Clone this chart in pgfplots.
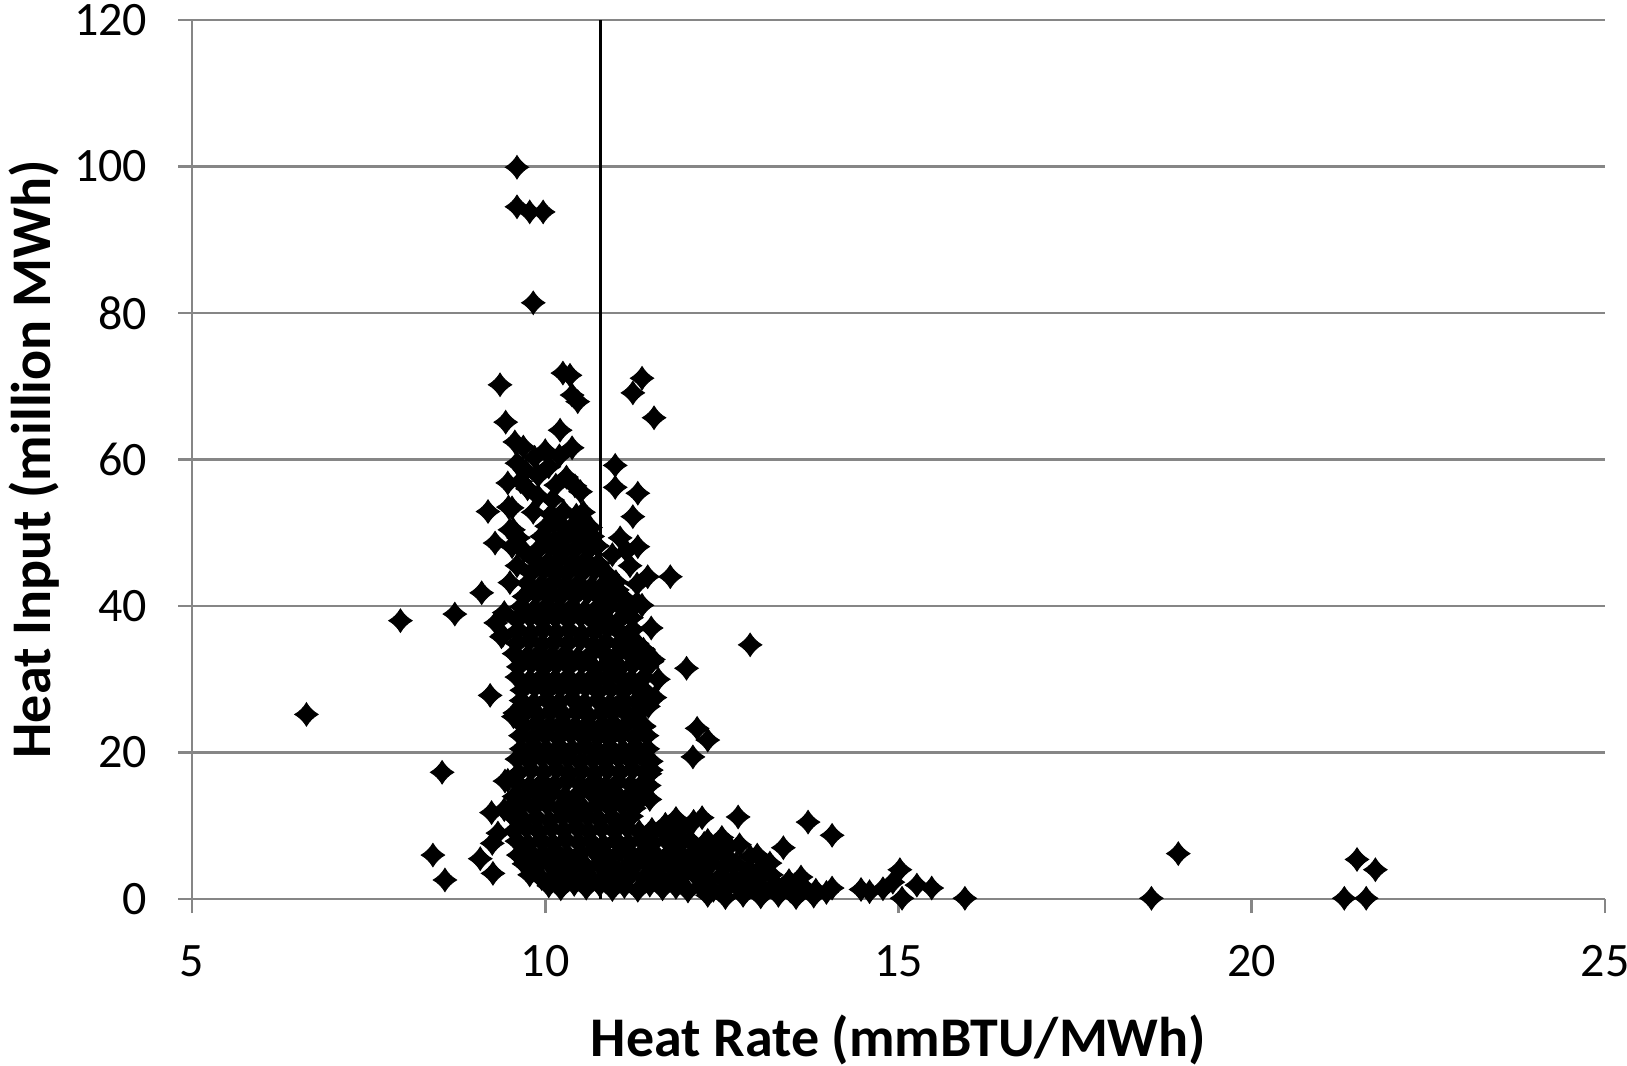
\documentclass[border=0pt]{standalone}
\usepackage{fontspec}
\setmainfont{Carlito}
\usepackage{pgfplots}
\pgfplotsset{compat=1.18}
\definecolor{axgray}{RGB}{134,134,134}
\pgfdeclareplotmark{xdiamond}{%
 \pgfpathmoveto{\pgfqpoint{0pt}{\pgfplotmarksize}}%
 \pgfpathcurveto{\pgfqpoint{0.22\pgfplotmarksize}{0.6\pgfplotmarksize}}{\pgfqpoint{0.6\pgfplotmarksize}{0.22\pgfplotmarksize}}{\pgfqpoint{\pgfplotmarksize}{0pt}}%
 \pgfpathcurveto{\pgfqpoint{0.6\pgfplotmarksize}{-0.22\pgfplotmarksize}}{\pgfqpoint{0.22\pgfplotmarksize}{-0.6\pgfplotmarksize}}{\pgfqpoint{0pt}{-\pgfplotmarksize}}%
 \pgfpathcurveto{\pgfqpoint{-0.22\pgfplotmarksize}{-0.6\pgfplotmarksize}}{\pgfqpoint{-0.6\pgfplotmarksize}{-0.22\pgfplotmarksize}}{\pgfqpoint{-\pgfplotmarksize}{0pt}}%
 \pgfpathcurveto{\pgfqpoint{-0.6\pgfplotmarksize}{0.22\pgfplotmarksize}}{\pgfqpoint{-0.22\pgfplotmarksize}{0.6\pgfplotmarksize}}{\pgfqpoint{0pt}{\pgfplotmarksize}}%
 \pgfpathclose\pgfusepathqfillstroke}
\pgfplotsset{pts/.style={only marks, mark=xdiamond, mark size=2.9pt, draw=black, fill=black, mark options={fill=black, draw=black, line width=0.25pt}}}
\begin{document}
\begin{tikzpicture}
\begin{axis}[
 at={(48pt,41.5pt)}, anchor=south west,
 scale only axis, width=353.25pt, height=219.75pt,
 xmin=5, xmax=25, ymin=0, ymax=120,
 axis x line=bottom, axis y line=left,
 axis line style={-, draw=axgray, line width=0.7pt},
 xtick={5,10,15,20,25}, xticklabels={5,10,15,20,25},
 ytick={0,20,40,60,80,100,120}, yticklabels={0,20,40,60,80,100,120},
 tick align=outside, major tick length=3.5pt,
 tick style={draw=axgray, line width=0.7pt},
 ymajorgrids, grid style={draw=axgray, line width=0.7pt},
 ticklabel style={font=\fontsize{12}{14}\selectfont, inner sep=0pt, text=black},
 xticklabel style={anchor=north, yshift=-8pt},
 yticklabel style={anchor=east, xshift=-7.5pt},
 xlabel={Heat Rate (mmBTU/MWh)},
 ylabel={Heat Input (million MWh)},
 label style={font=\fontsize{14}{16}\selectfont\bfseries},
 xlabel style={at={(axis description cs:0.5,-0.1797)}, anchor=base},
 ylabel style={at={(axis description cs:-0.1005,0.5)}, anchor=base},
 clip=false,
]
\addplot[black, line width=0.7pt] coordinates {(10.78,0) (10.78,120)};
% dense mass
\addplot[pts] coordinates {
(10.05,1.8)(10.22,1.4)(10.41,2.0)(10.58,1.5)(10.77,1.9)(10.95,1.3)(11.12,1.7)(11.31,1.2)(11.48,1.9)(11.66,1.4)(11.85,1.6)(12.02,1.1)(12.2,1.7)(12.38,1.2)(12.57,1.5)
(12.75,1.4)(12.93,1.8)(13.11,1.2)(13.29,1.6)(13.47,1.1)(13.65,1.7)(13.83,1.2)
(12.3,0.5)(12.55,0.2)(12.8,0.5)(13.05,0.3)(13.3,0.5)(13.55,0.2)(13.8,0.4)
(9.78,3.3)(9.95,2.8)(10.13,3.2)(10.31,2.9)(10.5,3.4)(10.67,2.7)(10.86,3.1)(11.03,2.8)(11.21,3.3)(11.4,2.9)(11.57,3.2)(11.76,2.7)(11.93,3.0)(12.11,3.4)(12.3,2.8)(12.48,3.1)
(12.66,2.8)(12.84,3.2)(13.02,2.9)(13.2,3.3)(13.45,2.5)(13.62,3.0)
(9.7,4.8)(9.87,4.4)(10.05,4.9)(10.22,4.5)(10.4,4.7)(10.59,4.3)(10.76,4.8)(10.94,4.6)(11.13,4.2)(11.3,4.9)(11.48,4.5)(11.67,4.7)(11.84,4.3)(12.02,4.8)(12.2,4.4)(12.35,4.9)
(12.53,4.4)(12.7,4.8)(12.9,3.9)(13.05,4.1)(13.18,4.9)
(9.62,6.0)(9.79,6.4)(9.97,6.1)(10.15,6.5)(10.33,5.9)(10.5,6.3)(10.68,6.6)(10.86,6.0)(11.05,6.4)(11.22,6.1)(11.4,6.5)(11.58,5.9)(11.76,6.3)(11.94,6.0)(12.12,6.4)(12.26,6.1)
(12.4,6.3)(12.55,5.9)(12.9,5.8)
(9.6,7.9)(9.76,7.5)(9.94,8.0)(10.11,7.6)(10.29,8.1)(10.47,7.7)(10.64,7.9)(10.83,7.4)(11.0,8.0)(11.18,7.6)(11.36,8.1)(11.53,7.7)(11.72,7.9)(11.9,7.5)(12.05,8.0)(12.25,7.6)
(9.56,9.3)(9.73,9.7)(9.91,9.2)(10.09,9.6)(10.26,9.4)(10.44,9.8)(10.62,9.2)(10.8,9.6)(10.98,9.3)(11.16,9.7)(11.33,9.2)(11.51,9.5)(11.69,9.1)(11.82,9.4)
(9.55,11.2)(9.7,10.8)(9.88,11.1)(10.06,10.7)(10.24,11.3)(10.42,10.9)(10.6,11.2)(10.77,10.8)(10.95,11.1)(11.12,10.7)(11.22,11.3)
(9.5,12.4)(9.66,12.8)(9.84,12.5)(10.02,12.9)(10.2,12.4)(10.37,12.7)(10.55,12.3)(10.73,12.8)(10.91,12.5)(11.08,12.9)(11.26,12.4)
(9.56,14.0)(9.74,14.4)(9.92,14.1)(10.1,14.5)(10.28,14.0)(10.46,14.3)(10.64,14.6)(10.82,14.1)(11.0,14.4)(11.18,14.0)(11.36,14.3)
(9.6,15.9)(9.78,15.5)(9.96,16.0)(10.13,15.6)(10.31,16.1)(10.49,15.7)(10.67,15.9)(10.85,15.4)(11.03,16.0)(11.21,15.6)(11.39,15.9)(11.47,15.5)
(9.62,17.2)(9.8,17.6)(9.98,17.3)(10.16,17.7)(10.34,17.1)(10.52,17.5)(10.7,17.2)(10.88,17.6)(11.06,17.3)(11.24,17.7)(11.42,17.2)(11.5,17.6)
(9.6,19.1)(9.77,18.8)(9.95,19.3)(10.13,18.9)(10.31,19.2)(10.49,18.7)(10.67,19.1)(10.85,18.8)(11.03,19.3)(11.21,18.9)(11.39,19.2)(11.5,18.8)
(9.66,20.5)(9.84,20.9)(10.02,20.4)(10.2,20.8)(10.38,20.5)(10.56,20.9)(10.74,20.3)(10.92,20.7)(11.1,20.4)(11.28,20.8)(11.45,20.5)
(9.65,22.3)(9.82,21.9)(10.0,22.4)(10.18,22.0)(10.36,22.5)(10.54,22.1)(10.72,22.3)(10.9,21.9)(11.08,22.4)(11.26,22.0)(11.44,22.3)
(9.7,23.6)(9.88,24.0)(10.06,23.7)(10.24,24.1)(10.42,23.6)(10.6,23.9)(10.78,23.5)(10.96,24.0)(11.14,23.7)(11.32,24.1)(11.4,23.6)
(9.72,25.5)(9.9,25.1)(10.08,25.6)(10.26,25.2)(10.44,25.5)(10.62,25.0)(10.8,25.4)(10.98,25.7)(11.16,25.2)(11.34,25.5)
(9.66,27.1)(9.84,26.8)(10.02,27.2)(10.2,26.9)(10.38,27.3)(10.56,26.8)(10.74,27.1)(10.92,26.7)(11.1,27.2)(11.28,26.9)(11.44,27.1)
(9.67,28.5)(9.85,28.9)(10.03,28.4)(10.21,28.8)(10.39,28.5)(10.57,28.9)(10.75,28.3)(10.93,28.7)(11.11,28.4)(11.29,28.8)(11.4,28.5)
(9.6,30.3)(9.78,29.9)(9.96,30.4)(10.14,30.0)(10.32,30.3)(10.5,29.9)(10.68,30.4)(10.86,30.1)(11.04,30.5)(11.22,30.0)(11.4,30.3)
(9.62,31.7)(9.8,32.1)(9.98,31.6)(10.16,32.0)(10.34,31.7)(10.52,32.1)(10.7,31.5)(10.88,31.9)(11.06,31.6)(11.24,32.0)(11.44,31.7)
(9.56,33.5)(9.74,33.1)(9.92,33.6)(10.1,33.2)(10.28,33.5)(10.46,33.0)(10.64,33.4)(10.82,33.7)(11.0,33.2)(11.18,33.6)(11.35,33.3)
(9.6,34.9)(9.78,35.3)(9.96,34.8)(10.14,35.2)(10.32,34.9)(10.5,35.3)(10.68,34.7)(10.86,35.1)(11.04,34.8)(11.22,35.2)(11.3,34.9)
(9.62,36.7)(9.8,36.3)(9.98,36.8)(10.16,36.4)(10.34,36.7)(10.52,36.2)(10.7,36.6)(10.88,36.9)(11.06,36.4)(11.24,36.8)
(9.6,38.1)(9.78,38.5)(9.96,38.0)(10.14,38.4)(10.32,38.1)(10.5,38.5)(10.68,37.9)(10.86,38.3)(11.04,38.0)(11.22,38.4)
(9.66,39.9)(9.84,39.5)(10.02,40.0)(10.2,39.6)(10.38,39.9)(10.56,39.4)(10.74,39.8)(10.92,40.1)(11.1,39.6)(11.2,40.0)
(9.7,41.3)(9.88,41.7)(10.06,41.2)(10.24,41.6)(10.42,41.3)(10.6,41.7)(10.78,41.1)(10.96,41.5)(11.1,41.2)
(9.75,43.1)(9.93,42.7)(10.11,43.2)(10.29,42.8)(10.47,43.1)(10.65,42.6)(10.83,43.0)(11.0,43.3)
(9.8,44.5)(9.98,44.9)(10.16,44.4)(10.34,44.8)(10.52,44.5)(10.7,44.9)(10.88,44.3)
(9.85,46.3)(10.03,45.9)(10.21,46.4)(10.39,46.0)(10.57,46.3)(10.75,45.8)
(9.9,47.7)(10.08,48.1)(10.26,47.6)(10.44,48.0)(10.62,47.7)(10.74,48.2)
(9.95,49.5)(10.13,49.1)(10.31,49.6)(10.49,49.2)(10.67,49.5)
(10.02,50.9)(10.2,51.3)(10.38,50.8)(10.56,51.2)(10.64,50.7)
(10.08,52.5)(10.26,52.9)(10.44,52.4)(10.54,52.8)
};
% scattered points
\addplot[pts] coordinates {
(6.62,25.2)(7.95,38.0)(8.72,38.9)(8.54,17.3)(8.41,6.0)(8.58,2.6)(9.08,5.5)(9.26,3.5)(9.25,7.6)
(9.1,41.8)(9.19,52.9)(9.22,27.8)(9.24,11.8)(9.36,70.2)(9.44,65.1)
(9.60,99.9)(9.60,94.5)(9.78,93.8)(9.97,93.8)(9.83,81.4)
(10.25,71.8)(10.35,71.5)(10.38,68.8)(10.46,67.9)(11.37,71.1)(11.24,69.1)(11.54,65.7)
(10.21,64.0)(9.57,62.4)(9.69,61.7)(10.38,61.6)(10.99,59.2)(10.99,56.2)(11.31,55.4)
(9.47,56.8)(9.53,53.4)(9.83,52.8)(11.24,52.2)(9.29,48.6)(9.53,48.1)(9.50,50.4)
(11.06,49.3)(11.31,48.1)(11.77,44.0)(11.37,40.1)(11.02,42.2)(9.40,36.0)(11.51,32.4)
(12.0,31.5)(12.90,34.7)(12.15,23.3)(12.30,21.7)(12.09,19.4)(9.57,25.4)(9.47,16.2)(9.33,9.0)
(9.6,59.5)(9.72,58.5)(9.85,60.3)(9.9,57.8)(10.05,59.0)(10.15,56.5)(10.3,57.6)(10.42,56.4)
(10.2,60.5)(9.75,56.0)(10.0,61.2)(9.65,57.0)(10.5,55.6)(10.1,54.5)(9.9,55.0)
(9.55,50.4)(9.7,47.5)(9.62,49.3)(9.48,53.5)(9.6,45.5)(9.5,43.2)
(9.3,37.7)(9.38,35.8)(9.42,39.1)(9.55,24.9)(9.43,16.1)(9.42,12.2)
(11.3,40.5)(11.39,34.1)(11.53,32.7)(11.46,26.3)(11.39,23.5)(11.48,17.1)(11.48,13.6)(11.27,12.9)
(11.6,30.0)(11.55,27.5)(11.5,37.0)(11.45,44.0)(11.2,45.5)(11.15,47.5)(10.95,47.0)(11.3,43.0)
(11.7,10.2)(11.95,9.8)(12.1,10.6)(11.85,11.0)(12.22,11.1)(12.73,11.2)(13.72,10.5)(14.06,8.7)
(12.3,8.0)(12.45,6.8)(12.6,7.2)(12.75,7.4)(13.0,6.0)(13.37,7.0)(12.5,8.4)
(14.06,1.5)(14.47,1.3)(14.59,1.0)(14.78,1.4)(14.92,2.3)(15.02,4.0)(15.05,0.1)(15.26,1.9)(15.47,1.5)(15.94,0.1)(13.98,0.9)
(18.58,0.1)(18.96,6.2)(21.31,0.1)(21.62,0.1)(21.49,5.4)(21.75,4.0)
};
\end{axis}
\pgfresetboundingbox
\path (0,0) rectangle (406.75pt,266.25pt);
\end{tikzpicture}
\end{document}
